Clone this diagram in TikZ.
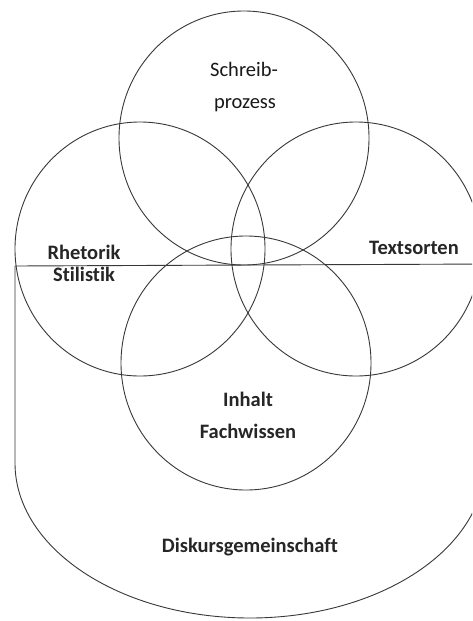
\documentclass[tikz,border=0pt]{standalone}
\usepackage{fontspec}
\setmainfont[Ligatures={NoCommon}]{Carlito}
\begin{document}
\begin{tikzpicture}[x=1pt,y=-1pt,
  ring/.style={draw=black!78, line width=0.9pt},
  lbl/.style={font=\fontsize{20.5}{24}\selectfont\bfseries, text=black!85, anchor=base, inner sep=0pt},
  lbllight/.style={lbl, font=\fontsize{20.5}{24}\selectfont, text=black!90}]
\useasboundingbox (0,0) rectangle (472,621);
\clip (0,0) rectangle (472,621);
\fill[white] (0,0) rectangle (472,621);
% circles
\draw[ring] (244,138) ellipse [x radius=125pt, y radius=127pt];
\draw[ring] (140,249) ellipse [x radius=125pt, y radius=127pt];
\draw[ring] (356,249) ellipse [x radius=125pt, y radius=127pt];
\draw[ring] (246,363) ellipse [x radius=125pt, y radius=127pt];
% discourse community outline
\coordinate (hl) at (15,266);
\coordinate (hr) at (490,264);
\coordinate (vl) at (15,463);
\draw[ring] (hl) -- (hr);
\draw[ring] (hl) -- (vl) arc[start angle=180, end angle=360, x radius=235pt, y radius=155pt] -- (485,264);
% labels
\node[lbllight] (s1) at (244,76) {Schreib-};
\node[lbllight] (s2) at (245,108) {prozess};
\node[lbl] (r1) at (84,259) {Rhetorik};
\node[lbl] (r2) at (84,281) {Stilistik};
\node[lbl] (t) at (414,254) {Textsorten};
\node[lbl] (i1) at (248,406) {Inhalt};
\node[lbl] (i2) at (248,438) {Fachwissen};
\node[lbl] (d) at (250,552) {Diskursgemeinschaft};
\end{tikzpicture}
\end{document}
